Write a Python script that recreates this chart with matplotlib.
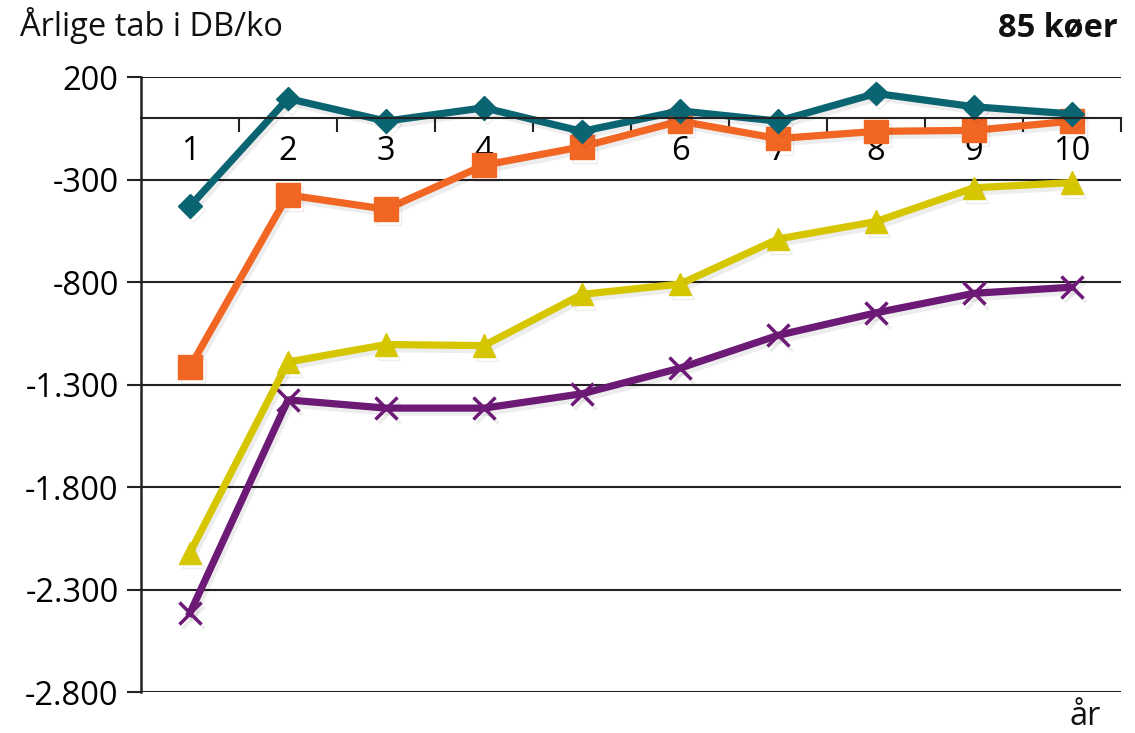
import numpy as np
import matplotlib.pyplot as plt
import matplotlib.patheffects as pe

plt.rcParams['font.family'] = ['Open Sans', 'DejaVu Sans']

years = [1, 2, 3, 4, 5, 6, 7, 8, 9, 10]
teal = [-430, 95, -15, 50, -65, 35, -15, 120, 55, 20]
orange = [-1215, -375, -445, -230, -140, -15, -100, -65, -60, -15]
yellow = [-2120, -1190, -1105, -1110, -860, -810, -590, -505, -340, -315]
purple = [-2415, -1375, -1415, -1415, -1345, -1220, -1060, -950, -855, -825]
yticks = [200, -300, -800, -1300, -1800, -2300, -2800]
ylabels = ['200', '-300', '-800', '-1.300', '-1.800', '-2.300', '-2.800']

fig = plt.figure(figsize=(11.35, 7.33), dpi=100)
ax = fig.add_axes([0.1242, 0.0559, 0.8635, 0.839])

shadow = [pe.SimpleLineShadow(offset=(2, -3), alpha=0.07, shadow_color='black'), pe.Normal()]

series = [
    (purple, '#6d1a76', 'x', 16, 2.5),
    (yellow, '#d6c600', '^', 16, None),
    (orange, '#f26624', 's', 17, None),
    (teal, '#0b6471', 'D', 12, None),
]
for vals, col, mk, ms, mew in series:
    kw = dict(color=col, lw=5.2, marker=mk, ms=ms, path_effects=shadow)
    if mew:
        kw['mew'] = mew
    ax.plot(years, vals, **kw)

ax.set_xlim(0.5, 10.5)
ax.set_ylim(-2800, 200)
ax.set_yticks(yticks)
ax.set_yticklabels(ylabels, fontsize=23.5)
ax.tick_params(axis='y', length=10, width=1.5, color='#222222', pad=6)
ax.grid(axis='y', color='#222222', lw=1.5)
ax.set_axisbelow(True)

for s in ['top', 'right']:
    ax.spines[s].set_visible(False)
ax.spines['left'].set_linewidth(1.8)
ax.spines['left'].set_color('#222222')
ax.spines['bottom'].set_position(('data', 0))
ax.spines['bottom'].set_linewidth(1.5)
ax.spines['bottom'].set_color('#222222')

ax.set_xticks(years)
ax.set_xticklabels([str(y) for y in years], fontsize=23.5)
ax.tick_params(axis='x', which='major', length=0, pad=12)
ax.set_xticks(np.arange(1.5, 11, 1), minor=True)
ax.tick_params(axis='x', which='minor', length=10, width=1.5, color='#222222', direction='out')

fig.text(0.018, 0.965, 'Årlige tab i DB/ko', fontsize=23.5, va='center', ha='left', color='#111111')
fig.text(0.985, 0.963, '85 køer', fontsize=23.5, fontweight='bold', va='center', ha='right', color='#111111')
fig.text(0.97, 0.022, 'år', fontsize=23.5, va='center', ha='right', color='#111111')

fig.savefig('out.png', dpi=100)
